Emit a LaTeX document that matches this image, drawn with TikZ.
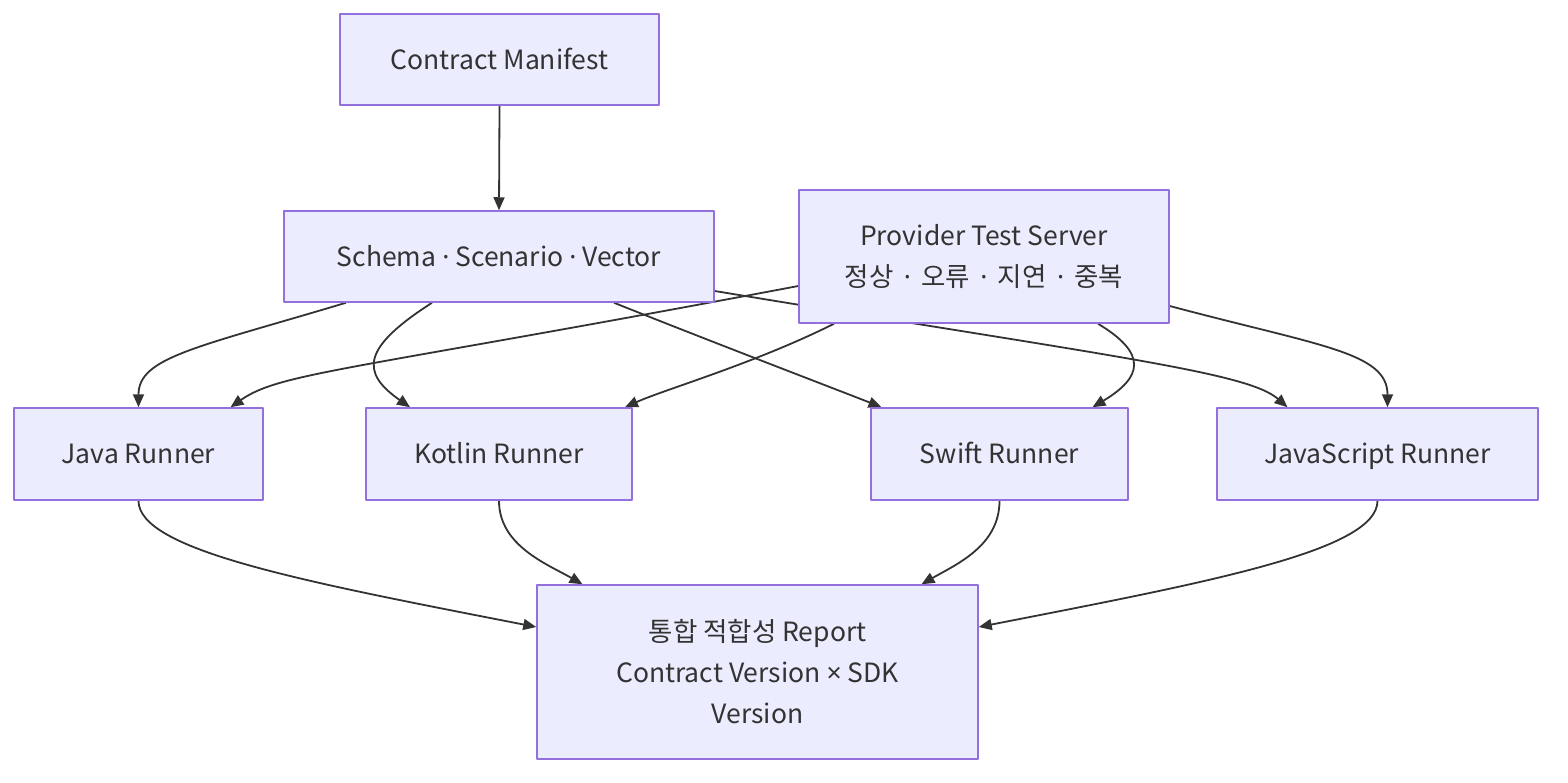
\documentclass[tikz,border=0pt]{standalone}
\usepackage{fontspec}
\setmainfont{Noto Sans CJK KR}
\newfontfamily\symfont{Noto Sans}
\usetikzlibrary{arrows.meta,backgrounds}
\definecolor{boxfill}{HTML}{ECECFF}
\definecolor{boxline}{HTML}{9370DB}
\definecolor{inkgrey}{HTML}{333333}
\newcommand{\mdot}{{\symfont\textperiodcentered}}
\newcommand{\xsign}{{\symfont\char"00D7}}
\tikzset{
  box/.style={draw=boxline, fill=boxfill, line width=1.5pt, inner sep=0pt,
    align=center, text=inkgrey, font=\fontsize{26.5}{41}\selectfont},
  oneline/.style={text height=19.5pt, text depth=0pt},
  flow/.style={draw=inkgrey, line width=1.8pt, -{Triangle[length=13pt,width=11pt]}},
}
\begin{document}
\begin{tikzpicture}[x=1pt, y=-1pt, line join=round]
  \useasboundingbox (0,0) rectangle (1568,782);

  % Sources
  \node[box, oneline, minimum width=319pt, minimum height=91pt] (manifest) at (499.5,59.5) {Contract Manifest};
  \node[box, oneline, minimum width=430pt, minimum height=91pt] (schema) at (499,256.5) {Schema \mdot{} Scenario \mdot{} Vector};
  \node[box, minimum width=370pt, minimum height=133pt] (provider) at (984,256.5) {Provider Test Server\\정상 \,\mdot\, 오류 \,\mdot\, 지연 \,\mdot\, 중복};

  % Runners
  \node[box, oneline, minimum width=249pt, minimum height=92pt] (java) at (138.5,454) {Java Runner};
  \node[box, oneline, minimum width=266pt, minimum height=92pt] (kotlin) at (499,454) {Kotlin Runner};
  \node[box, oneline, minimum width=257pt, minimum height=92pt] (swift) at (999.5,454) {Swift Runner};
  \node[box, oneline, minimum width=321pt, minimum height=92pt] (js) at (1377.5,454) {JavaScript Runner};

  % Report
  \node[box, minimum width=441pt, minimum height=174pt] (report) at (757.5,672) {통합 적합성 Report\\Contract Version \xsign{} SDK\\Version};

  \begin{pgfonlayer}{background}
    % Manifest to schema
    \draw[flow] (manifest.south) -- (schema.north);

    % Schema to runners
    \draw[flow] ([xshift=-153pt]schema.south) .. controls +(-150,45) and +(0,-50) .. (java.north);
    \draw[flow] ([xshift=-67pt]schema.south) .. controls +(-70,45) and +(-50,-35) .. ([xshift=-89pt]kotlin.north);
    \draw[flow] ([xshift=115pt]schema.south) .. controls +(100,40) and +(-30,-12) .. ([xshift=-118pt]swift.north);
    \draw[flow] ([yshift=-34.5pt]schema.east) .. controls +(400,66) and +(-40,-35) .. ([xshift=-90pt]js.north);

    % Provider to runners
    \draw[flow] ([yshift=-29.5pt]provider.west) .. controls +(-450,85) and +(50,-35) .. ([xshift=92pt]java.north);
    \draw[flow] ([xshift=-150pt]provider.south) .. controls +(-80,40) and +(40,-18) .. ([xshift=126pt]kotlin.north);
    \draw[flow] ([xshift=114pt]provider.south) .. controls +(50,30) and +(50,-30) .. ([xshift=93pt]swift.north);
    \draw[flow] ([yshift=-49.5pt]provider.east) .. controls +(150,40) and +(0,-55) .. ([xshift=10pt]js.north);

    % Runners to report
    \draw[flow] (java.south) .. controls +(0,50) and +(-230,-45) .. ([yshift=45pt]report.west);
    \draw[flow] (kotlin.south) .. controls +(0,45) and +(-35,-20) .. ([xshift=-175pt]report.north);
    \draw[flow] (swift.south) .. controls +(0,45) and +(35,-20) .. ([xshift=164pt]report.north);
    \draw[flow] (js.south) .. controls +(0,50) and +(230,-45) .. ([yshift=45pt]report.east);
  \end{pgfonlayer}
\end{tikzpicture}
\end{document}
